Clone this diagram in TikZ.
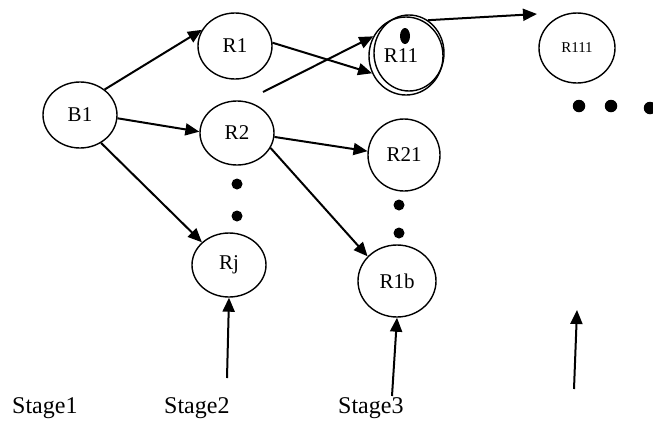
\documentclass[tikz,border=0pt]{standalone}
\usepackage{fontspec}
\setmainfont{Liberation Serif}
\usetikzlibrary{shapes.geometric,arrows.meta}
\begin{document}
\begin{tikzpicture}[x=1pt,y=-1pt,
  st/.style={draw,ellipse,line width=1.4pt,inner sep=0pt,font=\fontsize{21}{24}\selectfont},
  arr/.style={line width=2pt,-{Triangle[length=14pt,width=12pt]}},
  dotb/.style={fill=black,circle,inner sep=0pt,minimum size=11pt},
  lbl/.style={anchor=base west,inner sep=0pt,font=\fontsize{24}{28}\selectfont}]
\useasboundingbox (0,0) rectangle (653,421);
% nodes
\node[st,minimum width=74pt,minimum height=66pt] (B1) at (80,115) {B1};
\node[st,minimum width=74pt,minimum height=66pt] (R1) at (235,46) {R1};
\node[st,minimum width=74pt,minimum height=64pt] (R2) at (237,133) {R2};
\node[st,minimum width=74pt,minimum height=64pt] (Rj) at (229,265) {Rj};
\node[st,minimum width=74pt,minimum height=78pt] (R11) at (406,56) {};
\node[st,minimum width=70pt,minimum height=76pt] (R11b) at (409,53) {};
\node[inner sep=0pt,font=\fontsize{21}{24}\selectfont] (R11t) at (401,56) {R11};
\node[fill=black,ellipse,inner sep=0pt,minimum width=10pt,minimum height=16pt] (R11d) at (405,36) {};
\node[st,minimum width=72pt,minimum height=72pt] (R21) at (404,155) {R21};
\node[st,minimum width=78pt,minimum height=72pt] (R1b) at (397,281) {R1b};
\node[st,minimum width=76pt,minimum height=70pt,font=\fontsize{15}{18}\selectfont] (R111) at (577,48) {R111};
% dots
\node[dotb] (d1) at (237,184) {};
\node[dotb] (d2) at (237,216) {};
\node[dotb] (d3) at (399,205) {};
\node[dotb] (d4) at (399,233) {};
\node[dotb,minimum size=12.5pt] (d5) at (579,106) {};
\node[dotb,minimum size=12.5pt] (d6) at (611,106) {};
\node[dotb,minimum size=12.5pt] (d7) at (650,108) {};
% free ends
\coordinate (s2) at (263,92);
\coordinate (t111) at (537,14);
\coordinate (a2) at (227,378);
\coordinate (a3) at (392,396);
\coordinate (a4b) at (574,389);
\coordinate (a4t) at (577,310);
% connectors
\draw[arr] (B1.46) -- (R1.154);
\draw[arr] (B1.-5) -- (R2.178);
\draw[arr] (B1.-53) -- (Rj.140);
\draw[arr] (R1.5) -- (R11.207);
\draw[arr] (s2) -- (R11.149);
\draw[arr] (R11b.60) -- (t111);
\draw[arr] (R2.-6) -- (R21.174);
\draw[arr] (R2.-24) -- (R1b.140);
\draw[arr] (a2) -- (Rj.south);
\draw[arr] (a3) -- (R1b.south);
\draw[arr] (a4b) -- (a4t);
% labels
\node[lbl] (S1) at (12,413) {Stage1};
\node[lbl] (S2) at (164,413) {Stage2};
\node[lbl] (S3) at (338,413) {Stage3};
\end{tikzpicture}
\end{document}
